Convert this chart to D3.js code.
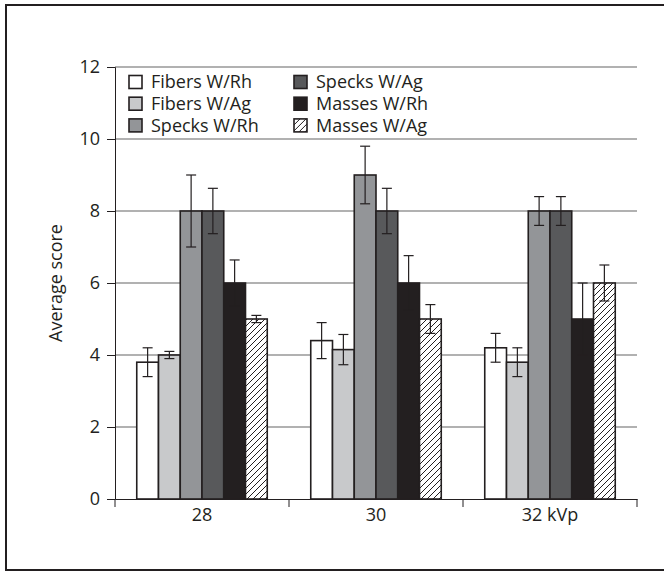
<!DOCTYPE html>
<html>
<head>
<meta charset="utf-8">
<script src="https://cdn.jsdelivr.net/npm/d3@7"></script>
<style>
  body { margin: 0; background: #fff; }
  svg { display: block; font-family: "Open Sans", "Noto Sans", sans-serif; }
</style>
</head>
<body>
<div class="chart"></div>
<script>
var categories = ['28', '30', '32 kVp'];
var series = ['Fibers W/Rh', 'Fibers W/Ag', 'Specks W/Rh', 'Specks W/Ag', 'Masses W/Rh', 'Masses W/Ag'];

// mean score per series, one value per kVp
var fibersRh = [3.8, 4.4, 4.2];
var fibersAg = [4.0, 4.15, 3.8];
var specksRh = [8.0, 9.0, 8.0];
var specksAg = [8.0, 8.0, 8.0];
var massesRh = [6.0, 6.0, 5.0];
var massesAg = [5.0, 5.0, 6.0];

// error bar half-lengths
var fibersRhErr = [0.4, 0.5, 0.4];
var fibersAgErr = [0.1, 0.42, 0.4];
var specksRhErr = [1.0, 0.8, 0.4];
var specksAgErr = [0.63, 0.63, 0.4];
var massesRhErr = [0.64, 0.76, 1.0];
var massesAgErr = [0.1, 0.4, 0.5];

var yTicks = [0, 2, 4, 6, 8, 10, 12];

var values = [fibersRh, fibersAg, specksRh, specksAg, massesRh, massesAg];
var errors = [fibersRhErr, fibersAgErr, specksRhErr, specksAgErr, massesRhErr, massesAgErr];
var fills = ['#ffffff', '#c8c9cb', '#939598', '#58595b', '#231f20', 'url(#hatch)'];

var data = [];
categories.forEach(function (c, ci) {
    series.forEach(function (s, si) {
        data.push({ cat: c, series: s, value: values[si][ci], err: errors[si][ci], fill: fills[si] });
    });
});

var margin = { top: 67, right: 27, bottom: 74, left: 115 };
var width = 664 - margin.left - margin.right;
var height = 573 - margin.top - margin.bottom;
var fontSize = 18;

var root = d3.select('.chart')
    .append('svg')
    .attr('width', 664)
    .attr('height', 573);

var defs = root.append('defs');
var pat = defs.append('pattern')
    .attr('id', 'hatch')
    .attr('patternUnits', 'userSpaceOnUse')
    .attr('width', 6)
    .attr('height', 6);
pat.append('rect').attr('width', 6).attr('height', 6).attr('fill', '#fff');
pat.append('path')
    .attr('d', 'M-1,1 l2,-2 M0,6 l6,-6 M5,7 l2,-2')
    .attr('stroke', '#231f20')
    .attr('stroke-width', 1);

// outer frame (its right edge runs off the picture)
root.append('rect')
    .attr('x', 6).attr('y', 5)
    .attr('width', 700).attr('height', 565)
    .attr('fill', 'none')
    .attr('stroke', '#231f20')
    .attr('stroke-width', 2);

var svg = root.append('g')
    .attr('transform', `translate(${margin.left}, ${margin.top})`);

var yScale = d3.scaleLinear()
    .domain([0, 12])
    .range([height, 0]);

var x0 = d3.scaleBand()
    .domain(categories)
    .range([0, width])
    .padding(0);

var x1 = d3.scaleBand()
    .domain(series)
    .range([0, x0.bandwidth()])
    .paddingInner(0)
    .paddingOuter(1);

// gridlines
svg.append('g')
    .selectAll('line')
    .data(yTicks.filter(d => d > 0))
    .enter()
    .append('line')
    .attr('x1', 0)
    .attr('x2', width)
    .attr('y1', d => yScale(d))
    .attr('y2', d => yScale(d))
    .attr('stroke', '#b1b1b1')
    .attr('stroke-width', 2);

// y axis
var yAxis = d3.axisLeft(yScale)
    .tickValues(yTicks)
    .tickSize(8)
    .tickPadding(7);
var gy = svg.append('g').call(yAxis);
gy.select('.domain').attr('stroke', '#231f20');
gy.selectAll('.tick line').attr('stroke', '#231f20');
gy.selectAll('.tick text')
    .attr('font-size', fontSize)
    .attr('font-family', '"Open Sans", sans-serif')
    .attr('fill', '#231f20');

// bars
svg.append('g')
    .selectAll('rect')
    .data(data)
    .enter()
    .append('rect')
    .attr('x', d => x0(d.cat) + x1(d.series))
    .attr('y', d => yScale(d.value))
    .attr('width', x1.bandwidth())
    .attr('height', d => height - yScale(d.value))
    .attr('fill', d => d.fill)
    .attr('stroke', '#231f20')
    .attr('stroke-width', 1.6);

// error bars
var eb = svg.append('g')
    .selectAll('g')
    .data(data)
    .enter()
    .append('g')
    .attr('transform', d => `translate(${x0(d.cat) + x1(d.series) + x1.bandwidth() / 2}, 0)`)
    .attr('stroke', '#231f20')
    .attr('stroke-width', 1.2);
eb.append('line')
    .attr('y1', d => yScale(d.value + d.err))
    .attr('y2', d => yScale(d.value - d.err));
eb.append('line')
    .attr('x1', -5).attr('x2', 5)
    .attr('y1', d => yScale(d.value + d.err))
    .attr('y2', d => yScale(d.value + d.err));
eb.append('line')
    .attr('x1', -5).attr('x2', 5)
    .attr('y1', d => yScale(d.value - d.err))
    .attr('y2', d => yScale(d.value - d.err));

// x axis: ticks at the group boundaries
var xAxis = d3.axisBottom(x0).tickSize(0).tickPadding(9);
var gx = svg.append('g')
    .attr('transform', 'translate(0,' + height + ')')
    .call(xAxis);
gx.select('.domain').attr('stroke', '#231f20');
gx.selectAll('.tick text')
    .attr('font-size', fontSize)
    .attr('font-family', '"Open Sans", sans-serif')
    .attr('fill', '#231f20');
gx.selectAll('.bound')
    .data(categories.map(c => x0(c) + x0.bandwidth()).concat([0]))
    .enter()
    .append('line')
    .attr('x1', d => d).attr('x2', d => d)
    .attr('y1', 0).attr('y2', 8)
    .attr('stroke', '#231f20');

// y axis title
svg.append('text')
    .attr('transform', `translate(${-53}, ${height / 2}) rotate(-90)`)
    .attr('text-anchor', 'middle')
    .attr('font-size', fontSize)
    .attr('fill', '#231f20')
    .text('Average score');

// legend
var legend = svg.append('g')
    .attr('transform', 'translate(14, 8.5)');
var li = legend.selectAll('g')
    .data(series)
    .enter()
    .append('g')
    .attr('transform', (d, i) => `translate(${Math.floor(i / 3) * 165}, ${(i % 3) * 21.7})`);
li.append('rect')
    .attr('width', 13)
    .attr('height', 13)
    .attr('fill', (d, i) => fills[i])
    .attr('stroke', '#231f20')
    .attr('stroke-width', 1.6);
li.append('text')
    .attr('x', 22)
    .attr('y', 6.5)
    .attr('dy', '0.35em')
    .attr('font-size', fontSize)
    .attr('fill', '#231f20')
    .text(d => d);
</script>
</body>
</html>
